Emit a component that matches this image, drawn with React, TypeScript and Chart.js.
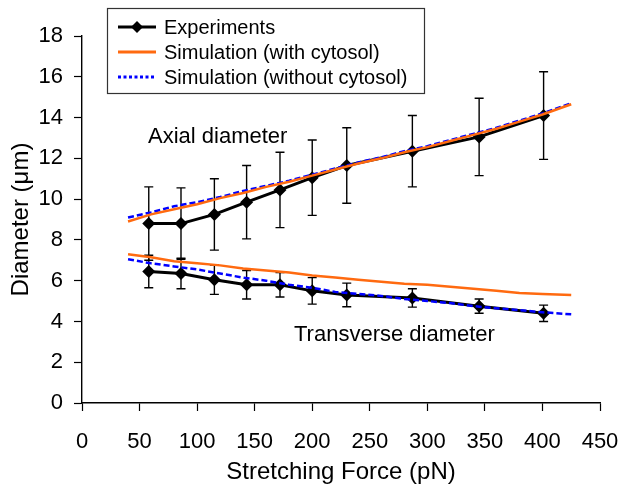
import React, { useEffect, useRef } from "react";
import { Chart, registerables } from "chart.js";
Chart.register(...registerables);

const expForce = [58, 86, 115, 143, 172, 200, 230, 287, 345, 401];
const expAxial = [8.8, 8.8, 9.25, 9.85, 10.45, 11.05, 11.65, 12.35, 13.05, 14.1];
const expAxialErr = [1.8, 1.75, 1.75, 1.8, 1.85, 1.85, 1.85, 1.75, 1.9, 2.15];
const expTrans = [6.45, 6.35, 6.05, 5.8, 5.8, 5.5, 5.3, 5.15, 4.75, 4.4];
const expTransErr = [0.8, 0.75, 0.72, 0.7, 0.6, 0.65, 0.58, 0.45, 0.35, 0.4];

const simForce = [40, 60, 80, 100, 120, 140, 160, 180, 200, 220, 240, 260, 280, 300, 320, 340, 360, 380, 400, 425];
const simAxialWith = [8.9, 9.25, 9.5, 9.75, 10.05, 10.3, 10.6, 10.85, 11.15, 11.45, 11.75, 12.0, 12.3, 12.55, 12.85, 13.15, 13.45, 13.8, 14.15, 14.65];
const simAxialWithout = [9.1, 9.35, 9.65, 9.85, 10.1, 10.4, 10.65, 10.9, 11.2, 11.5, 11.8, 12.05, 12.35, 12.6, 12.9, 13.2, 13.5, 13.85, 14.2, 14.7];
const simTransWith = [7.3, 7.15, 6.95, 6.85, 6.75, 6.6, 6.5, 6.4, 6.25, 6.15, 6.05, 5.95, 5.85, 5.8, 5.7, 5.6, 5.5, 5.4, 5.35, 5.3];
const simTransWithout = [7.05, 6.85, 6.7, 6.55, 6.35, 6.15, 6.0, 5.8, 5.65, 5.45, 5.35, 5.25, 5.1, 5.0, 4.9, 4.75, 4.65, 4.55, 4.45, 4.35];

const xTicks = [0, 50, 100, 150, 200, 250, 300, 350, 400, 450];
const legendLabels = ["Experiments", "Simulation (with cytosol)", "Simulation (without cytosol)"];
const annotations = ["Axial diameter", "Transverse diameter"];

const FONT = "'Liberation Sans', Arial, sans-serif";
const ORANGE = "#FF6A10";
const BLUE = "#0000FF";

const pts = (xs: number[], ys: number[]) => xs.map((x, i) => ({ x, y: ys[i] }));

export default function App() {
  const ref = useRef<HTMLCanvasElement | null>(null);
  useEffect(() => {
    document.body.style.margin = "0";
    const canvas = ref.current!;
    const errs: Record<number, number[]> = { 4: expAxialErr, 5: expTransErr };

    const errorBars = {
      id: "errorBars",
      beforeDatasetDraw(chart: any, args: any) {
        const e = errs[args.index];
        if (!e) return;
        const ds = chart.data.datasets[args.index];
        const xs = chart.scales.x, ys = chart.scales.y;
        const ctx = chart.ctx;
        ctx.save();
        ctx.strokeStyle = "#000";
        ctx.lineWidth = 1.4;
        ds.data.forEach((p: any, i: number) => {
          const px = xs.getPixelForValue(p.x);
          const top = ys.getPixelForValue(p.y + e[i]);
          const bot = ys.getPixelForValue(p.y - e[i]);
          ctx.beginPath();
          ctx.moveTo(px, top); ctx.lineTo(px, bot);
          ctx.moveTo(px - 4.5, top); ctx.lineTo(px + 4.5, top);
          ctx.moveTo(px - 4.5, bot); ctx.lineTo(px + 4.5, bot);
          ctx.stroke();
        });
        ctx.restore();
      },
    };

    const overlay = {
      id: "overlay",
      afterDraw(chart: any) {
        const ctx = chart.ctx;
        ctx.save();
        ctx.fillStyle = "#000";
        ctx.font = `22px ${FONT}`;
        ctx.textBaseline = "middle";
        ctx.textAlign = "left";
        ctx.fillText(annotations[0], 148, 137);
        ctx.fillText(annotations[1], 294, 335);
        // legend box
        ctx.fillStyle = "#fff";
        ctx.fillRect(107, 8, 318, 85);
        ctx.strokeStyle = "#333";
        ctx.lineWidth = 1.2;
        ctx.strokeRect(107.5, 8.5, 317, 85);
        const rows = [27, 52, 77];
        const x0 = 118, x1 = 156;
        ctx.strokeStyle = "#000";
        ctx.lineWidth = 3;
        ctx.beginPath(); ctx.moveTo(x0, rows[0]); ctx.lineTo(x1, rows[0]); ctx.stroke();
        ctx.fillStyle = "#000";
        ctx.beginPath();
        const cx = (x0 + x1) / 2, r = 6;
        ctx.moveTo(cx, rows[0] - r); ctx.lineTo(cx + r, rows[0]); ctx.lineTo(cx, rows[0] + r); ctx.lineTo(cx - r, rows[0]); ctx.closePath();
        ctx.fill();
        ctx.strokeStyle = ORANGE;
        ctx.beginPath(); ctx.moveTo(x0, rows[1]); ctx.lineTo(x1, rows[1]); ctx.stroke();
        ctx.strokeStyle = BLUE;
        ctx.setLineDash([3, 2.5]);
        ctx.beginPath(); ctx.moveTo(x0, rows[2]); ctx.lineTo(x1, rows[2]); ctx.stroke();
        ctx.setLineDash([]);
        ctx.fillStyle = "#000";
        ctx.font = `20px ${FONT}`;
        legendLabels.forEach((t, i) => ctx.fillText(t, 164, rows[i] + 1));
        ctx.restore();
      },
    };

    const lineDs = (data: any, color: string, dash: number[] = []) => ({
      data,
      borderColor: color,
      borderWidth: 2.5,
      borderDash: dash,
      pointRadius: 0,
      fill: false,
      tension: 0,
    });

    const expDs = (data: any) => ({
      data,
      borderColor: "#000",
      backgroundColor: "#000",
      borderWidth: 3,
      pointStyle: "rectRot",
      pointRadius: 6.5,
      pointBorderWidth: 0,
      tension: 0,
    });

    const chart = new Chart(canvas, {
      type: "line",
      data: {
        datasets: [
          lineDs(pts(simForce, simAxialWith), ORANGE),
          lineDs(pts(simForce, simAxialWithout), BLUE, [6, 3]),
          lineDs(pts(simForce, simTransWith), ORANGE),
          lineDs(pts(simForce, simTransWithout), BLUE, [6, 3]),
          expDs(pts(expForce, expAxial)),
          expDs(pts(expForce, expTrans)),
        ],
      },
      options: {
        animation: false,
        responsive: false,
        layout: { padding: { top: 36, right: 18, left: 0, bottom: 0 } },
        plugins: { legend: { display: false }, tooltip: { enabled: false } },
        scales: {
          x: {
            type: "linear",
            min: 0,
            max: 450,
            afterBuildTicks: (s: any) => { s.ticks = xTicks.map((v) => ({ value: v })); },
            afterFit: (s: any) => { s.height = 84; s.paddingRight = 0; s.paddingLeft = 0; },
            grid: { drawOnChartArea: false, color: "#000", tickLength: 8, tickWidth: 1.2 },
            border: { color: "#000", width: 1.4 },
            ticks: { color: "#000", font: { family: FONT, size: 22 }, padding: 18, maxRotation: 0 },
            title: { display: true, text: "Stretching Force (pN)", color: "#000", font: { family: FONT, size: 24 }, padding: { top: 0, bottom: 0 } },
          },
          y: {
            type: "linear",
            min: 0,
            max: 18,
            ticks: { stepSize: 2, color: "#000", font: { family: FONT, size: 22 }, padding: 11 },
            afterFit: (s: any) => { s.width = 82; s.paddingTop = 0; s.paddingBottom = 0; },
            grid: { drawOnChartArea: false, color: "#000", tickLength: 8, tickWidth: 1.2 },
            border: { color: "#000", width: 1.4 },
            title: { display: true, text: "Diameter (\u03bcm)", color: "#000", font: { family: FONT, size: 24 }, padding: { top: 7, bottom: 0 } },
          },
        },
      },
      plugins: [errorBars, overlay],
    } as any);
    return () => chart.destroy();
  }, []);
  return <canvas ref={ref} width={618} height={487} style={{ display: "block" }} />;
}
